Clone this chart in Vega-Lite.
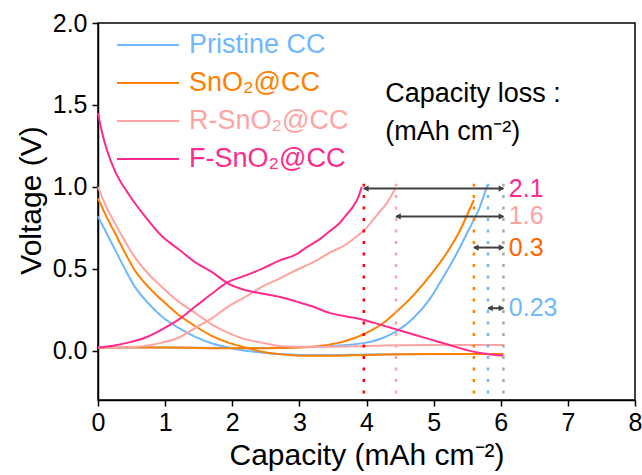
{
  "$schema": "https://vega.github.io/schema/vega-lite/v6.json",
  "width": 537,
  "height": 377,
  "autosize": {"type": "none"},
  "padding": {"left": 98, "top": 23, "right": 7, "bottom": 75},
  "background": "white",
  "config": {
    "font": "Liberation Sans",
    "view": {"stroke": "black", "strokeWidth": 1.5},
    "axis": {"grid": false, "domainColor": "black", "domainWidth": 1.5, "tickColor": "black", "tickWidth": 1.5, "tickSize": 6, "labelColor": "black", "titleColor": "black", "labelFontSize": 25, "titleFontSize": 30, "titleFontWeight": "normal", "labelFont": "Liberation Sans", "titleFont": "Liberation Sans"}
  },
  "datasets": {
    "curves": [
      {"s": "Pristine CC", "b": "d", "c": 0, "v": 0.82},
      {"s": "Pristine CC", "b": "d", "c": 0.1, "v": 0.74},
      {"s": "Pristine CC", "b": "d", "c": 0.25, "v": 0.62},
      {"s": "Pristine CC", "b": "d", "c": 0.4, "v": 0.5},
      {"s": "Pristine CC", "b": "d", "c": 0.55, "v": 0.39},
      {"s": "Pristine CC", "b": "d", "c": 0.75, "v": 0.29},
      {"s": "Pristine CC", "b": "d", "c": 0.95, "v": 0.21},
      {"s": "Pristine CC", "b": "d", "c": 1.2, "v": 0.14},
      {"s": "Pristine CC", "b": "d", "c": 1.45, "v": 0.085},
      {"s": "Pristine CC", "b": "d", "c": 1.7, "v": 0.045},
      {"s": "Pristine CC", "b": "d", "c": 1.94, "v": 0.02},
      {"s": "Pristine CC", "b": "d", "c": 2.2, "v": 0.0},
      {"s": "Pristine CC", "b": "d", "c": 2.44, "v": -0.01},
      {"s": "Pristine CC", "b": "d", "c": 2.7, "v": -0.02},
      {"s": "Pristine CC", "b": "d", "c": 3.0, "v": -0.025},
      {"s": "Pristine CC", "b": "d", "c": 3.5, "v": -0.025},
      {"s": "Pristine CC", "b": "d", "c": 4.0, "v": -0.022},
      {"s": "Pristine CC", "b": "d", "c": 5.0, "v": -0.02},
      {"s": "Pristine CC", "b": "d", "c": 6.04, "v": -0.02},
      {"s": "Pristine CC", "b": "c", "c": 0, "v": 0.02},
      {"s": "Pristine CC", "b": "c", "c": 1, "v": 0.02},
      {"s": "Pristine CC", "b": "c", "c": 2, "v": 0.018},
      {"s": "Pristine CC", "b": "c", "c": 2.5, "v": 0.018},
      {"s": "Pristine CC", "b": "c", "c": 3.0, "v": 0.022},
      {"s": "Pristine CC", "b": "c", "c": 3.5, "v": 0.03},
      {"s": "Pristine CC", "b": "c", "c": 4.0, "v": 0.05},
      {"s": "Pristine CC", "b": "c", "c": 4.25, "v": 0.08},
      {"s": "Pristine CC", "b": "c", "c": 4.45, "v": 0.12},
      {"s": "Pristine CC", "b": "c", "c": 4.7, "v": 0.2},
      {"s": "Pristine CC", "b": "c", "c": 4.95, "v": 0.32},
      {"s": "Pristine CC", "b": "c", "c": 5.1, "v": 0.42},
      {"s": "Pristine CC", "b": "c", "c": 5.3, "v": 0.56},
      {"s": "Pristine CC", "b": "c", "c": 5.5, "v": 0.72},
      {"s": "Pristine CC", "b": "c", "c": 5.69, "v": 0.88},
      {"s": "Pristine CC", "b": "c", "c": 5.8, "v": 1.01},
      {"s": "SnO₂@CC", "b": "d", "c": 0, "v": 0.93},
      {"s": "SnO₂@CC", "b": "d", "c": 0.1, "v": 0.84},
      {"s": "SnO₂@CC", "b": "d", "c": 0.25, "v": 0.72},
      {"s": "SnO₂@CC", "b": "d", "c": 0.4, "v": 0.6},
      {"s": "SnO₂@CC", "b": "d", "c": 0.55, "v": 0.49},
      {"s": "SnO₂@CC", "b": "d", "c": 0.75, "v": 0.39},
      {"s": "SnO₂@CC", "b": "d", "c": 0.95, "v": 0.31},
      {"s": "SnO₂@CC", "b": "d", "c": 1.2, "v": 0.22},
      {"s": "SnO₂@CC", "b": "d", "c": 1.45, "v": 0.15},
      {"s": "SnO₂@CC", "b": "d", "c": 1.7, "v": 0.09},
      {"s": "SnO₂@CC", "b": "d", "c": 1.94, "v": 0.05},
      {"s": "SnO₂@CC", "b": "d", "c": 2.2, "v": 0.02},
      {"s": "SnO₂@CC", "b": "d", "c": 2.44, "v": -0.005},
      {"s": "SnO₂@CC", "b": "d", "c": 2.7, "v": -0.02},
      {"s": "SnO₂@CC", "b": "d", "c": 3.0, "v": -0.03},
      {"s": "SnO₂@CC", "b": "d", "c": 3.5, "v": -0.03},
      {"s": "SnO₂@CC", "b": "d", "c": 4.0, "v": -0.025},
      {"s": "SnO₂@CC", "b": "d", "c": 5.0, "v": -0.02},
      {"s": "SnO₂@CC", "b": "d", "c": 6.04, "v": -0.02},
      {"s": "SnO₂@CC", "b": "c", "c": 0, "v": 0.02},
      {"s": "SnO₂@CC", "b": "c", "c": 1, "v": 0.02},
      {"s": "SnO₂@CC", "b": "c", "c": 2, "v": 0.015},
      {"s": "SnO₂@CC", "b": "c", "c": 2.5, "v": 0.015},
      {"s": "SnO₂@CC", "b": "c", "c": 3.0, "v": 0.02},
      {"s": "SnO₂@CC", "b": "c", "c": 3.3, "v": 0.03},
      {"s": "SnO₂@CC", "b": "c", "c": 3.6, "v": 0.05},
      {"s": "SnO₂@CC", "b": "c", "c": 3.8, "v": 0.075},
      {"s": "SnO₂@CC", "b": "c", "c": 4.0, "v": 0.11},
      {"s": "SnO₂@CC", "b": "c", "c": 4.25, "v": 0.17},
      {"s": "SnO₂@CC", "b": "c", "c": 4.45, "v": 0.24},
      {"s": "SnO₂@CC", "b": "c", "c": 4.7, "v": 0.34},
      {"s": "SnO₂@CC", "b": "c", "c": 4.95, "v": 0.46},
      {"s": "SnO₂@CC", "b": "c", "c": 5.2, "v": 0.6},
      {"s": "SnO₂@CC", "b": "c", "c": 5.4, "v": 0.74},
      {"s": "SnO₂@CC", "b": "c", "c": 5.5, "v": 0.83},
      {"s": "SnO₂@CC", "b": "c", "c": 5.6, "v": 0.92},
      {"s": "R-SnO₂@CC", "b": "d", "c": 0, "v": 1.0},
      {"s": "R-SnO₂@CC", "b": "d", "c": 0.1, "v": 0.9},
      {"s": "R-SnO₂@CC", "b": "d", "c": 0.25, "v": 0.78},
      {"s": "R-SnO₂@CC", "b": "d", "c": 0.4, "v": 0.67},
      {"s": "R-SnO₂@CC", "b": "d", "c": 0.55, "v": 0.57},
      {"s": "R-SnO₂@CC", "b": "d", "c": 0.75, "v": 0.47},
      {"s": "R-SnO₂@CC", "b": "d", "c": 0.95, "v": 0.39},
      {"s": "R-SnO₂@CC", "b": "d", "c": 1.2, "v": 0.3},
      {"s": "R-SnO₂@CC", "b": "d", "c": 1.45, "v": 0.23},
      {"s": "R-SnO₂@CC", "b": "d", "c": 1.7, "v": 0.16},
      {"s": "R-SnO₂@CC", "b": "d", "c": 1.94, "v": 0.11},
      {"s": "R-SnO₂@CC", "b": "d", "c": 2.2, "v": 0.07},
      {"s": "R-SnO₂@CC", "b": "d", "c": 2.44, "v": 0.05},
      {"s": "R-SnO₂@CC", "b": "d", "c": 2.7, "v": 0.03},
      {"s": "R-SnO₂@CC", "b": "d", "c": 2.94, "v": 0.025},
      {"s": "R-SnO₂@CC", "b": "d", "c": 3.5, "v": 0.025},
      {"s": "R-SnO₂@CC", "b": "d", "c": 4.0, "v": 0.03},
      {"s": "R-SnO₂@CC", "b": "d", "c": 5.0, "v": 0.035},
      {"s": "R-SnO₂@CC", "b": "d", "c": 6.04, "v": 0.035},
      {"s": "R-SnO₂@CC", "b": "c", "c": 0, "v": 0.02},
      {"s": "R-SnO₂@CC", "b": "c", "c": 0.3, "v": 0.02},
      {"s": "R-SnO₂@CC", "b": "c", "c": 0.6, "v": 0.025},
      {"s": "R-SnO₂@CC", "b": "c", "c": 0.95, "v": 0.05},
      {"s": "R-SnO₂@CC", "b": "c", "c": 1.2, "v": 0.08},
      {"s": "R-SnO₂@CC", "b": "c", "c": 1.45, "v": 0.14},
      {"s": "R-SnO₂@CC", "b": "c", "c": 1.7, "v": 0.2},
      {"s": "R-SnO₂@CC", "b": "c", "c": 1.94, "v": 0.27},
      {"s": "R-SnO₂@CC", "b": "c", "c": 2.2, "v": 0.33},
      {"s": "R-SnO₂@CC", "b": "c", "c": 2.44, "v": 0.39},
      {"s": "R-SnO₂@CC", "b": "c", "c": 2.7, "v": 0.44},
      {"s": "R-SnO₂@CC", "b": "c", "c": 2.94, "v": 0.49},
      {"s": "R-SnO₂@CC", "b": "c", "c": 3.2, "v": 0.54},
      {"s": "R-SnO₂@CC", "b": "c", "c": 3.46, "v": 0.6},
      {"s": "R-SnO₂@CC", "b": "c", "c": 3.7, "v": 0.65},
      {"s": "R-SnO₂@CC", "b": "c", "c": 3.86, "v": 0.7},
      {"s": "R-SnO₂@CC", "b": "c", "c": 4.0, "v": 0.75},
      {"s": "R-SnO₂@CC", "b": "c", "c": 4.1, "v": 0.8},
      {"s": "R-SnO₂@CC", "b": "c", "c": 4.2, "v": 0.85},
      {"s": "R-SnO₂@CC", "b": "c", "c": 4.3, "v": 0.9},
      {"s": "R-SnO₂@CC", "b": "c", "c": 4.43, "v": 0.99},
      {"s": "F-SnO₂@CC", "b": "d", "c": 0, "v": 1.45},
      {"s": "F-SnO₂@CC", "b": "d", "c": 0.05, "v": 1.35},
      {"s": "F-SnO₂@CC", "b": "d", "c": 0.1, "v": 1.27},
      {"s": "F-SnO₂@CC", "b": "d", "c": 0.25, "v": 1.1},
      {"s": "F-SnO₂@CC", "b": "d", "c": 0.45, "v": 0.96},
      {"s": "F-SnO₂@CC", "b": "d", "c": 0.7, "v": 0.82},
      {"s": "F-SnO₂@CC", "b": "d", "c": 0.95, "v": 0.7},
      {"s": "F-SnO₂@CC", "b": "d", "c": 1.2, "v": 0.62},
      {"s": "F-SnO₂@CC", "b": "d", "c": 1.45, "v": 0.54},
      {"s": "F-SnO₂@CC", "b": "d", "c": 1.7, "v": 0.48},
      {"s": "F-SnO₂@CC", "b": "d", "c": 1.94, "v": 0.41},
      {"s": "F-SnO₂@CC", "b": "d", "c": 2.2, "v": 0.37},
      {"s": "F-SnO₂@CC", "b": "d", "c": 2.44, "v": 0.35},
      {"s": "F-SnO₂@CC", "b": "d", "c": 2.7, "v": 0.33},
      {"s": "F-SnO₂@CC", "b": "d", "c": 2.96, "v": 0.3},
      {"s": "F-SnO₂@CC", "b": "d", "c": 3.2, "v": 0.27},
      {"s": "F-SnO₂@CC", "b": "d", "c": 3.46, "v": 0.23},
      {"s": "F-SnO₂@CC", "b": "d", "c": 3.7, "v": 0.21},
      {"s": "F-SnO₂@CC", "b": "d", "c": 3.95, "v": 0.19},
      {"s": "F-SnO₂@CC", "b": "d", "c": 4.2, "v": 0.16},
      {"s": "F-SnO₂@CC", "b": "d", "c": 4.45, "v": 0.13},
      {"s": "F-SnO₂@CC", "b": "d", "c": 4.7, "v": 0.1},
      {"s": "F-SnO₂@CC", "b": "d", "c": 4.95, "v": 0.07},
      {"s": "F-SnO₂@CC", "b": "d", "c": 5.2, "v": 0.04},
      {"s": "F-SnO₂@CC", "b": "d", "c": 5.59, "v": -0.005},
      {"s": "F-SnO₂@CC", "b": "d", "c": 5.8, "v": -0.02},
      {"s": "F-SnO₂@CC", "b": "d", "c": 6.04, "v": -0.03},
      {"s": "F-SnO₂@CC", "b": "c", "c": 0, "v": 0.02},
      {"s": "F-SnO₂@CC", "b": "c", "c": 0.2, "v": 0.03},
      {"s": "F-SnO₂@CC", "b": "c", "c": 0.45, "v": 0.05},
      {"s": "F-SnO₂@CC", "b": "c", "c": 0.7, "v": 0.08},
      {"s": "F-SnO₂@CC", "b": "c", "c": 0.95, "v": 0.13},
      {"s": "F-SnO₂@CC", "b": "c", "c": 1.2, "v": 0.19},
      {"s": "F-SnO₂@CC", "b": "c", "c": 1.45, "v": 0.27},
      {"s": "F-SnO₂@CC", "b": "c", "c": 1.7, "v": 0.35},
      {"s": "F-SnO₂@CC", "b": "c", "c": 1.94, "v": 0.42},
      {"s": "F-SnO₂@CC", "b": "c", "c": 2.2, "v": 0.46},
      {"s": "F-SnO₂@CC", "b": "c", "c": 2.44, "v": 0.5},
      {"s": "F-SnO₂@CC", "b": "c", "c": 2.7, "v": 0.55},
      {"s": "F-SnO₂@CC", "b": "c", "c": 2.96, "v": 0.59},
      {"s": "F-SnO₂@CC", "b": "c", "c": 3.1, "v": 0.63},
      {"s": "F-SnO₂@CC", "b": "c", "c": 3.3, "v": 0.68},
      {"s": "F-SnO₂@CC", "b": "c", "c": 3.45, "v": 0.73},
      {"s": "F-SnO₂@CC", "b": "c", "c": 3.6, "v": 0.78},
      {"s": "F-SnO₂@CC", "b": "c", "c": 3.7, "v": 0.83},
      {"s": "F-SnO₂@CC", "b": "c", "c": 3.8, "v": 0.88},
      {"s": "F-SnO₂@CC", "b": "c", "c": 3.87, "v": 0.93},
      {"s": "F-SnO₂@CC", "b": "c", "c": 3.93, "v": 1.0}
    ],
    "loss": [
      {"s": "Pristine CC", "start": 5.81, "end": 6.04, "loss": "0.23", "av": 0.26},
      {"s": "SnO₂@CC", "start": 5.6, "end": 6.04, "loss": "0.3", "av": 0.63},
      {"s": "R-SnO₂@CC", "start": 4.44, "end": 6.04, "loss": "1.6", "av": 0.82},
      {"s": "F-SnO₂@CC", "start": 3.96, "end": 6.04, "loss": "2.1", "av": 0.99}
    ]
  },
  "layer": [
    {
      "data": {"name": "curves"},
      "mark": {"type": "line", "strokeWidth": 2, "interpolate": "monotone"},
      "encoding": {
        "x": {"field": "c", "type": "quantitative", "title": "Capacity (mAh cm⁻²)", "scale": {"domain": [0, 8], "nice": false}, "axis": {"values": [0, 1, 2, 3, 4, 5, 6, 7, 8], "format": "d", "labelPadding": 4, "titlePadding": 5, "labelFlush": false}},
        "y": {"field": "v", "type": "quantitative", "title": "Voltage (V)", "scale": {"domain": [-0.3, 2.0], "nice": false, "zero": false}, "axis": {"values": [0, 0.5, 1, 1.5, 2], "format": ".1f", "labelPadding": 5, "titlePadding": 6, "titleY": 177, "labelFlush": false}},
        "color": {
          "field": "s",
          "type": "nominal",
          "scale": {"domain": ["Pristine CC", "SnO₂@CC", "R-SnO₂@CC", "F-SnO₂@CC"], "range": ["#6FB7FF", "#FF8000", "#FFA3A3", "#FF2B8C"]},
          "legend": {
            "orient": "none", "legendX": 18, "legendY": 8, "title": null, "symbolType": "stroke", "symbolSize": 3844, "symbolStrokeWidth": 2, "labelFontSize": 27, "labelFont": "Liberation Sans", "labelOffset": 9, "rowPadding": 10, "clipHeight": 28, "padding": 0, "labelLimit": 400,
            "encode": {"labels": {"update": {"fill": {"signal": "datum.value === 'Pristine CC' ? '#6FB7FF' : datum.value === 'SnO₂@CC' ? '#FF8000' : datum.value === 'R-SnO₂@CC' ? '#FFA3A3' : '#FF2B8C'"}}}}
          }
        },
        "detail": {"field": "b", "type": "nominal"}
      }
    },
    {
      "data": {"name": "loss"},
      "mark": {"type": "rule", "strokeWidth": 2.5, "strokeDash": [3, 8.5]},
      "encoding": {
        "x": {"field": "start", "type": "quantitative", "title": "Capacity (mAh cm⁻²)"},
        "y": {"datum": -0.26, "type": "quantitative", "title": "Voltage (V)"},
        "y2": {"datum": 1.02},
        "color": {"field": "s", "type": "nominal", "legend": null, "scale": {"domain": ["Pristine CC", "SnO₂@CC", "R-SnO₂@CC", "F-SnO₂@CC"], "range": ["#6FB7FF", "#FF8000", "#FFA3A3", "#FF0000"]}}
      }
    },
    {
      "data": {"name": "loss"},
      "transform": [{"filter": "datum.s === 'Pristine CC'"}],
      "mark": {"type": "rule", "strokeWidth": 2.5, "strokeDash": [3, 8.5], "color": "#AAAAAA"},
      "encoding": {
        "x": {"field": "end", "type": "quantitative", "title": "Capacity (mAh cm⁻²)"},
        "y": {"datum": -0.26, "type": "quantitative", "title": "Voltage (V)"},
        "y2": {"datum": 1.02}
      }
    },
    {
      "data": {"name": "loss"},
      "mark": {"type": "rule", "strokeWidth": 2, "color": "#404040"},
      "encoding": {
        "x": {"field": "start", "type": "quantitative", "title": "Capacity (mAh cm⁻²)"},
        "x2": {"field": "end"},
        "y": {"field": "av", "type": "quantitative", "title": "Voltage (V)"}
      }
    },
    {
      "data": {"name": "loss"},
      "mark": {"type": "point", "shape": "triangle-left", "filled": true, "size": 40, "color": "#404040", "opacity": 1, "xOffset": 2},
      "encoding": {
        "x": {"field": "start", "type": "quantitative", "title": "Capacity (mAh cm⁻²)"},
        "y": {"field": "av", "type": "quantitative", "title": "Voltage (V)"}
      }
    },
    {
      "data": {"name": "loss"},
      "mark": {"type": "point", "shape": "triangle-right", "filled": true, "size": 40, "color": "#404040", "opacity": 1, "xOffset": -2},
      "encoding": {
        "x": {"field": "end", "type": "quantitative", "title": "Capacity (mAh cm⁻²)"},
        "y": {"field": "av", "type": "quantitative", "title": "Voltage (V)"}
      }
    },
    {
      "data": {"name": "loss"},
      "mark": {"type": "text", "align": "left", "baseline": "middle", "fontSize": 25, "font": "Liberation Sans"},
      "encoding": {
        "x": {"datum": 6.12, "type": "quantitative", "title": "Capacity (mAh cm⁻²)"},
        "y": {"field": "av", "type": "quantitative", "title": "Voltage (V)"},
        "text": {"field": "loss"},
        "color": {"field": "s", "type": "nominal", "legend": null, "scale": {"domain": ["Pristine CC", "SnO₂@CC", "R-SnO₂@CC", "F-SnO₂@CC"], "range": ["#6FB7FF", "#FF6600", "#FFA3A3", "#FF2B8C"]}}
      }
    },
    {
      "data": {"values": [{"k": 1}]},
      "mark": {"type": "text", "align": "left", "baseline": "alphabetic", "fontSize": 27, "font": "Liberation Sans", "color": "black", "lineHeight": 38, "text": ["Capacity loss :", "(mAh cm⁻²)"]},
      "encoding": {
        "x": {"datum": 4.28, "type": "quantitative", "title": "Capacity (mAh cm⁻²)"},
        "y": {"datum": 1.52, "type": "quantitative", "title": "Voltage (V)"}
      }
    }
  ],
  "resolve": {"scale": {"color": "independent"}}
}
